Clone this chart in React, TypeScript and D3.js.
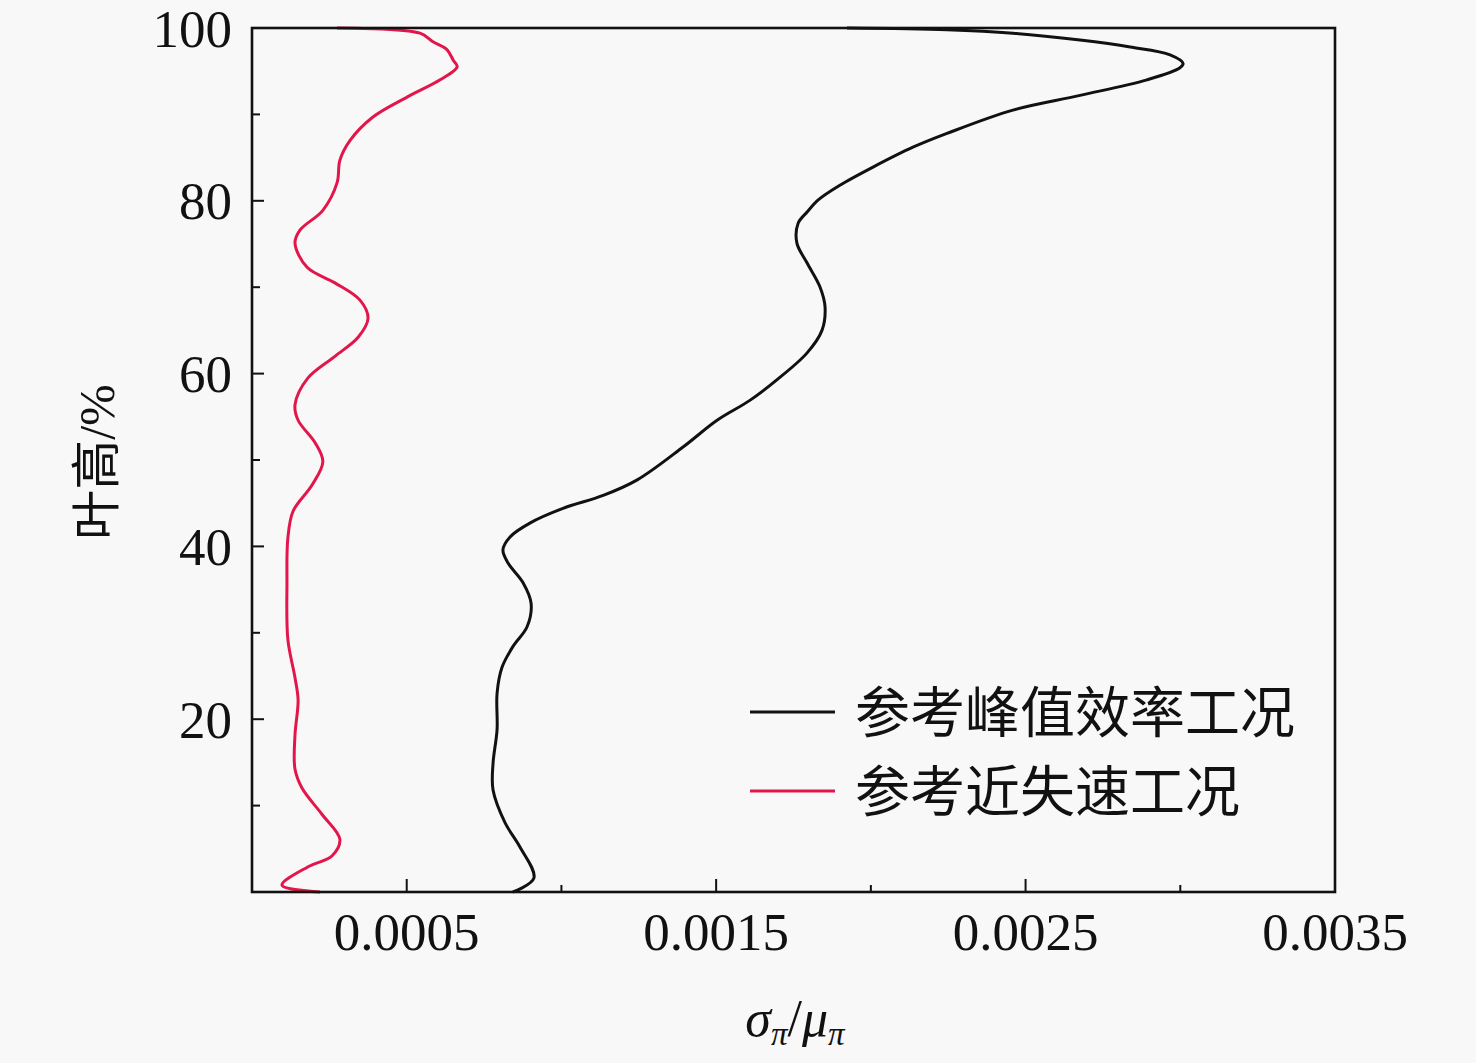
import { useEffect, useRef } from 'react';
import * as d3 from 'd3';

// blade height (%) and sigma/mu values
const peakHeights = [0, 1.6, 5.2, 8, 11.8, 14.9, 18.8, 23, 26, 28.4, 30.7, 33.4, 35.8, 38.1, 39.6, 41.1, 42.7, 44.4, 45.9, 47.7, 51.5, 54.6, 56.9, 59.3, 62.4, 65, 67.7, 70, 72.8, 75.1, 77.4, 78.7, 80.1, 81.8, 83.9, 86.2, 87.8, 90.5, 92.2, 94, 95.4, 95.9, 96.9, 97.8, 98.6, 99.4, 99.8, 100];
const peakValues = [0.000843, 0.000911, 0.000866, 0.000818, 0.000779, 0.000779, 0.000792, 0.000792, 0.000808, 0.000843, 0.000889, 0.000902, 0.000876, 0.000827, 0.000811, 0.000834, 0.000898, 0.001005, 0.001135, 0.001245, 0.001393, 0.001503, 0.001609, 0.001697, 0.001794, 0.001842, 0.001852, 0.001836, 0.001794, 0.001761, 0.001765, 0.001794, 0.00183, 0.0019, 0.002007, 0.002136, 0.002246, 0.002459, 0.002676, 0.002892, 0.002999, 0.003009, 0.002967, 0.002838, 0.002676, 0.002459, 0.002246, 0.001923];

const stallHeights = [0, 0.8, 2.9, 4.2, 6.1, 9, 12, 14.2, 18.2, 22.2, 24.8, 29.2, 35.8, 41, 44.1, 47.1, 49.8, 52, 54.6, 56.4, 59.5, 62, 64.2, 66.4, 68.5, 70.5, 72.3, 75.1, 76.6, 78.9, 82.1, 84.7, 87, 89.7, 92, 94, 95.5, 96.3, 97.5, 98.4, 99.4, 100];
const stallValues = [0.00022, 0.000097, 0.00018, 0.000259, 0.000284, 0.000226, 0.000162, 0.000139, 0.000139, 0.000149, 0.000139, 0.000116, 0.000113, 0.000116, 0.000133, 0.000194, 0.000229, 0.000204, 0.000149, 0.000139, 0.000181, 0.000268, 0.000343, 0.000375, 0.000349, 0.000268, 0.000178, 0.000139, 0.000155, 0.000229, 0.000275, 0.000284, 0.000317, 0.000391, 0.000501, 0.000608, 0.000663, 0.00065, 0.00063, 0.000585, 0.000543, 0.000275];

const seriesNames = ['参考峰值效率工况', '参考近失速工况'];
const xTickLabels = ['0.0005', '0.0015', '0.0025', '0.0035'];
const xMinorTicks = [0.001, 0.002, 0.003];
const yTickLabels = ['20', '40', '60', '80', '100'];
const yMinorTicks = [10, 30, 50, 70, 90];

const COLORS = {
  peak: '#111111',
  stall: '#e3164b',
  bg: '#f8f8f8'
};

const W = 1476;
const H = 1063;
const SERIF = '"Liberation Serif", "Times New Roman", serif';
const CJK = '"Noto Sans CJK SC", sans-serif';

export default function App() {
  const svgRef = useRef<SVGSVGElement>(null);

  useEffect(() => {
    if (!svgRef.current) return;
    const svg = d3.select(svgRef.current);
    svg.selectAll('*').remove();

    const margin = { left: 252, right: W - 1335, top: 28, bottom: H - 892 };
    const width = W - margin.left - margin.right;
    const height = H - margin.top - margin.bottom;

    const x = d3.scaleLinear().domain([0, 0.0035]).range([0, width]);
    const y = d3.scaleLinear().domain([0, 100]).range([height, 0]);

    svg.append('rect').attr('width', W).attr('height', H).attr('fill', COLORS.bg);

    const g = svg.append('g').attr('transform', `translate(${margin.left},${margin.top})`);

    const line = d3.line<[number, number]>()
      .x(d => x(d[0]))
      .y(d => y(d[1]))
      .curve(d3.curveCatmullRom.alpha(0.5));

    const series = [
      { pts: peakValues.map((v, i) => [v, peakHeights[i]] as [number, number]), color: COLORS.peak },
      { pts: stallValues.map((v, i) => [v, stallHeights[i]] as [number, number]), color: COLORS.stall }
    ];

    g.selectAll('.curve')
      .data(series)
      .enter()
      .append('path')
      .attr('class', 'curve')
      .attr('d', d => line(d.pts))
      .attr('fill', 'none')
      .attr('stroke', d => d.color)
      .attr('stroke-width', 3)
      .attr('stroke-linejoin', 'round');

    // inward ticks
    const xMajor = xTickLabels.map(Number);
    g.selectAll('.xt')
      .data([...xMajor.map(v => ({ v, len: 13 })), ...xMinorTicks.map(v => ({ v, len: 7 }))])
      .enter()
      .append('line')
      .attr('x1', d => x(d.v))
      .attr('x2', d => x(d.v))
      .attr('y1', height)
      .attr('y2', d => height - d.len)
      .attr('stroke', '#111')
      .attr('stroke-width', 2);

    const yMajor = yTickLabels.map(Number);
    g.selectAll('.yt')
      .data([...yMajor.map(v => ({ v, len: 12 })), ...yMinorTicks.map(v => ({ v, len: 8 }))])
      .enter()
      .append('line')
      .attr('x1', 0)
      .attr('x2', d => d.len)
      .attr('y1', d => y(d.v))
      .attr('y2', d => y(d.v))
      .attr('stroke', '#111')
      .attr('stroke-width', 2);

    // frame
    g.append('rect')
      .attr('width', width)
      .attr('height', height)
      .attr('fill', 'none')
      .attr('stroke', '#111')
      .attr('stroke-width', 2.6);

    // tick labels
    g.selectAll('.xl')
      .data(xTickLabels)
      .enter()
      .append('text')
      .attr('x', d => x(Number(d)))
      .attr('y', height + 58)
      .attr('text-anchor', 'middle')
      .attr('font-family', SERIF)
      .attr('font-size', 53)
      .attr('fill', '#111')
      .text(d => d);

    g.selectAll('.yl')
      .data(yTickLabels)
      .enter()
      .append('text')
      .attr('x', -20)
      .attr('y', d => y(Number(d)))
      .attr('dy', '0.35em')
      .attr('text-anchor', 'end')
      .attr('font-family', SERIF)
      .attr('font-size', 53)
      .attr('fill', '#111')
      .text(d => d);

    // x axis title: sigma_pi / mu_pi
    const xt = svg.append('text')
      .attr('x', 795)
      .attr('y', 1036)
      .attr('text-anchor', 'middle')
      .attr('font-family', SERIF)
      .attr('font-style', 'italic')
      .attr('font-size', 52)
      .attr('fill', '#111');
    xt.append('tspan').text('σ');
    xt.append('tspan').attr('font-size', 33).attr('dy', 9).text('π');
    xt.append('tspan').attr('dy', -9).attr('font-style', 'normal').text('/');
    xt.append('tspan').text('μ');
    xt.append('tspan').attr('font-size', 33).attr('dy', 9).text('π');

    // y axis title
    const yt = svg.append('text')
      .attr('transform', 'translate(114,462) rotate(-90)')
      .attr('text-anchor', 'middle')
      .attr('fill', '#111')
      .attr('font-size', 50);
    yt.append('tspan').attr('font-family', CJK).text('叶高');
    yt.append('tspan').attr('font-family', SERIF).text('/%');

    // legend
    const legend = svg.append('g');
    seriesNames.forEach((name, i) => {
      const ly = 712 + i * 79;
      legend.append('line')
        .attr('x1', 750)
        .attr('x2', 835)
        .attr('y1', ly)
        .attr('y2', ly)
        .attr('stroke', i === 0 ? COLORS.peak : COLORS.stall)
        .attr('stroke-width', 3.2);
      legend.append('text')
        .attr('x', 855)
        .attr('y', ly)
        .attr('dy', '0.36em')
        .attr('font-family', CJK)
        .attr('font-size', 55)
        .attr('fill', '#111')
        .text(name);
    });
  }, []);

  return (
    <div style={{ position: 'absolute', left: 0, top: 0 }}>
      <svg ref={svgRef} width={W} height={H} style={{ display: 'block' }} />
    </div>
  );
}
